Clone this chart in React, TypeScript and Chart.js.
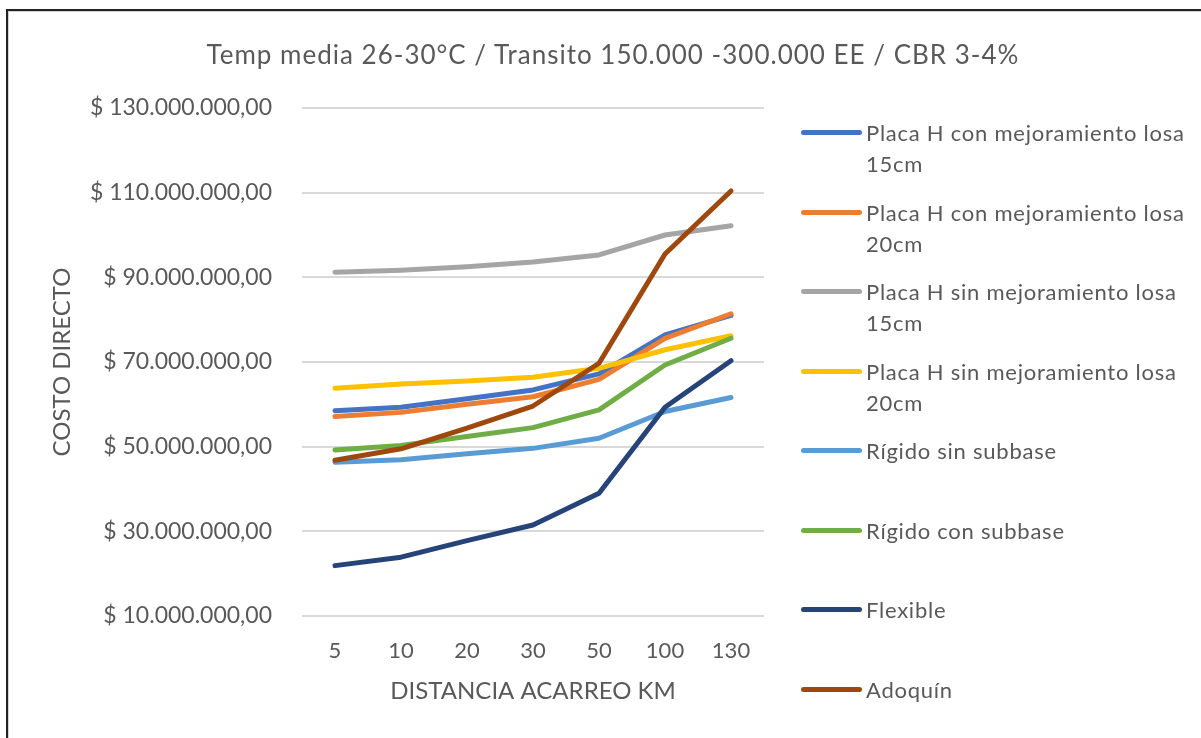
import React, { useEffect, useRef } from "react";
import { Chart, registerables } from "chart.js";

Chart.register(...registerables);

const TITLE = "Temp media 26-30°C / Transito 150.000 -300.000 EE / CBR 3-4%";
const X_TITLE = "DISTANCIA ACARREO KM";
const Y_TITLE = "COSTO DIRECTO";

const categories = ["5", "10", "20", "30", "50", "100", "130"];

const seriesNames = [
  "Placa H con mejoramiento losa 15cm",
  "Placa H con mejoramiento losa 20cm",
  "Placa H sin mejoramiento losa 15cm",
  "Placa H sin mejoramiento losa 20cm",
  "Rígido sin subbase",
  "Rígido con subbase",
  "Flexible",
  "Adoquín",
];

const placaHCon15 = [58.5, 59.3, 61.3, 63.4, 67.2, 76.4, 81.0];
const placaHCon20 = [57.1, 58.1, 60.0, 61.8, 65.9, 75.6, 81.4];
const placaHSin15 = [91.2, 91.7, 92.5, 93.6, 95.3, 100.0, 102.2];
const placaHSin20 = [63.8, 64.8, 65.5, 66.4, 68.5, 72.9, 76.2];
const rigidoSin = [46.3, 46.9, 48.3, 49.6, 52.0, 58.3, 61.6];
const rigidoCon = [49.2, 50.3, 52.4, 54.5, 58.7, 69.3, 75.6];
const flexible = [21.9, 23.9, 27.8, 31.5, 39.0, 59.3, 70.3];
const adoquin = [46.8, 49.5, 54.4, 59.6, 69.7, 95.5, 110.4];

const seriesValuesMillions = [
  placaHCon15,
  placaHCon20,
  placaHSin15,
  placaHSin20,
  rigidoSin,
  rigidoCon,
  flexible,
  adoquin,
];

const colors = [
  "#4472C4",
  "#ED7D31",
  "#A5A5A5",
  "#FFC000",
  "#5B9BD5",
  "#70AD47",
  "#264478",
  "#9E480E",
];

const yMin = 10000000;
const yMax = 130000000;
const yStep = 20000000;

const FONT = "Lato, 'Open Sans', sans-serif";
const TEXT = "#595959";

function formatMoney(v: number): string {
  const s = Math.round(v).toString().replace(/\B(?=(\d{3})+(?!\d))/g, ".");
  return "$ " + s + ",00";
}

export default function App() {
  const canvasRef = useRef<HTMLCanvasElement | null>(null);

  useEffect(() => {
    if (!canvasRef.current) return;
    const datasets = seriesNames.map((name, i) => ({
      label: name,
      data: seriesValuesMillions[i].map((v) => v * 1000000),
      borderColor: colors[i],
      backgroundColor: colors[i],
      borderWidth: 5,
      pointRadius: 0,
      pointHoverRadius: 0,
      borderCapStyle: "round" as const,
      borderJoinStyle: "round" as const,
      tension: 0,
      fill: false,
      order: seriesNames.length - i,
    }));
    const chart = new Chart(canvasRef.current, {
      type: "line",
      data: { labels: categories, datasets },
      options: {
        animation: false,
        responsive: false,
        maintainAspectRatio: false,
        layout: { padding: { left: 0, right: 437, top: 108, bottom: 0 } },
        plugins: {
          legend: { display: false },
          title: { display: false },
          tooltip: { enabled: false },
        },
        scales: {
          x: {
            type: "category",
            offset: true,
            afterFit: (scale: any) => {
              scale.height = 122;
            },
            grid: { display: false, drawTicks: false },
            border: { display: false },
            ticks: {
              color: TEXT,
              font: { family: FONT, size: 22 },
              padding: 22,
              maxRotation: 0,
            },
            title: {
              display: true,
              text: X_TITLE,
              color: TEXT,
              font: { family: FONT, size: 24 },
              padding: { top: 0, bottom: 32 },
            },
          },
          y: {
            type: "linear",
            min: yMin,
            max: yMax,
            afterFit: (scale: any) => {
              scale.width = 302;
            },
            grid: { color: "#D9D9D9", lineWidth: 2, drawTicks: false },
            border: { display: false },
            ticks: {
              stepSize: yStep,
              color: TEXT,
              font: { family: FONT, size: 23 },
              padding: 30,
              callback: (v: any) => formatMoney(Number(v)),
            },
            title: {
              display: true,
              text: Y_TITLE,
              color: TEXT,
              font: { family: FONT, size: 24 },
              padding: { top: 48, bottom: 0 },
            },
          },
        },
      },
    });
    return () => chart.destroy();
  }, []);

  return (
    <div
      style={{
        position: "fixed",
        left: 0,
        top: 0,
        width: 1201,
        height: 738,
        overflow: "hidden",
        background: "#fff",
      }}
    >
      <div
        style={{
          position: "absolute",
          left: 6,
          top: 9,
          width: 1400,
          height: 900,
          borderTop: "2px solid #222",
          borderLeft: "2px solid #222",
          boxShadow: "inset 1px 1px 0 #d0d0d0",
        }}
      />
      <canvas
        ref={canvasRef}
        width={1201}
        height={738}
        style={{ position: "absolute", left: 0, top: 0, width: 1201, height: 738 }}
      />
      <div
        style={{
          position: "absolute",
          left: 0,
          width: 1226,
          top: 38,
          textAlign: "center",
          fontFamily: FONT,
          fontSize: 26,
          letterSpacing: "1px",
          color: TEXT,
          lineHeight: "32px",
          whiteSpace: "nowrap",
        }}
      >
        {TITLE}
      </div>
      <div style={{ position: "absolute", left: 801, top: 117 }}>
        {seriesNames.map((name, i) => (
          <div
            key={name}
            style={{ position: "relative", height: 79.5, width: 400 }}
          >
            <div
              style={{
                position: "absolute",
                left: 0,
                top: 13,
                width: 61,
                height: 5,
                borderRadius: 3,
                background: colors[i],
              }}
            />
            <div
              style={{
                position: "absolute",
                left: 65,
                top: 0,
                width: 332,
                fontFamily: FONT,
                fontSize: 22,
                letterSpacing: "0.75px",
                lineHeight: "31px",
                color: TEXT,
              }}
            >
              {name}
            </div>
          </div>
        ))}
      </div>
    </div>
  );
}
